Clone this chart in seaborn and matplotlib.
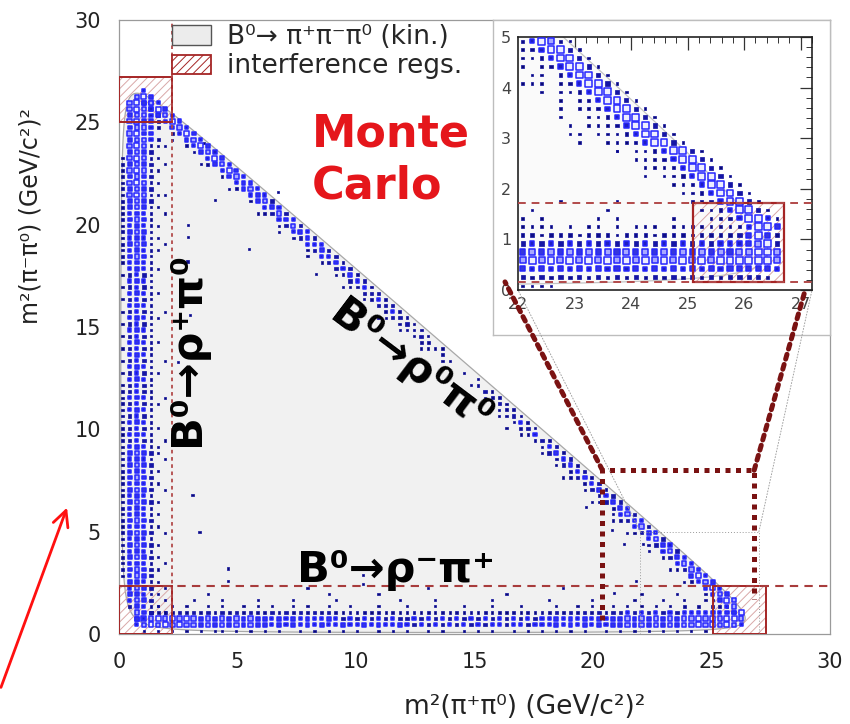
import numpy as np
import pandas as pd
import matplotlib
matplotlib.use("Agg")
import matplotlib.pyplot as plt
import seaborn as sns
from matplotlib.patches import Rectangle, Patch, Polygon, ConnectionPatch
from matplotlib.ticker import MultipleLocator

sns.set_theme(style="white")
plt.rcParams['font.family'] = ['DejaVu Sans']
plt.rcParams['hatch.linewidth'] = 0.7

# ------------------------------------------------------------------ data
# main histogram: 0.3 x 0.3 GeV^2 bins, box size digits 1..7 ('.' = empty)
BIN = 0.3
DIAG_J0 = 90          # y-bin of the rho0 line (x+y ~ 27.3) at x-bin 0

# rho- pi+ band: rows j = 0..7 (y bins), characters = x bins
H_ROWS = [
    "...1.1.1.1 .1.11.1.1. 1.1..1.1.1 .1.1..1.1. 1..1.1..1. 1.1..1.1.1 .1.1.1..1. 1.1.1.1.1. 1.1......",
    "..46767676 6565656565 5454545454 4544545445 4343434343 4344344344 4545454545 5656565656 67676764.",
    "..57676767 6565656565 5454545445 4343434343 3434343434 3434343434 4545454545 5656565656 67676776.",
    "....323232 3232323232 2323232323 2121212121 1212121212 1212121212 2323232323 3434343434 4545454..",
    ".....1.1.1 ..1.1..1.1 .1..1.1..1 ..1...1... 1...1...1. ..1...1... .1..1.1..1 .1.1.1.1.2 .2.2.2...",
    "......1... 1...1....1 ....1..... 1........1 ....1..... ..1....... 1.....1... ..1...1..1 ...1.....",
    ".......... ..1....... .........1 ......1... .......... ....1..... .......... ...1....1. .........",
    ".......... .......... ......1... .......... ...1...... .......... ..1....... .......... .........",
]
# rho+ pi0 band: columns i = 0..6 (x bins), characters = y bins
V_COLS = [
    ".........1 2121212121 2121212121 1212121212 1.1.1.1.1. 1.1.1.1.1. 1212121212 21212121.. .........",
    "....345454 5454545454 4545454545 4343434343 3434343434 3434343434 4545454545 5656565656 5656566..",
    "..56565656 6565656565 5656565656 5454545454 4545454545 4545454545 5656565656 6767676767 67676776.",
    "..45454545 5454545454 4545454545 4343434343 3434343434 3434343434 4545454545 5656565656 6565665..",
    "..23232323 3232323232 2323232323 2121212121 1212121212 1212121212 2121212121 3232323232 4545455..",
    "..1.1.1.1. 1.1.1..1.1 .1..1.1..1 1..1...1.. ..1....1.. .1...1...1 ..1.1.1..1 .1.1.1.1.1 2.2.3....",
    "...1...1.. .1....1... ...1....1. .1......1. ....1..... ..1....... ...1....1. .1....1..1 .........",
]
# rho0 pi0 band: offset k (in y bins) from the rho0 line, characters = x bins
D_ROWS = {
    1:  "...4545454 5454545454 4343434343 3232323232 2121.1.... 1.1212121. 2323232323 3434343434 4545456..",
    0:  "...7676767 6767676565 6565655454 5454434343 3232121.1. 2323234343 4545454545 5656565656 67676767.",
    -1: "...5454545 4545454545 4343434343 3232323232 2121.1...1 .1.1212121 3232323232 4343434343 5454545..",
    -2: "...2.2.2.2 1.2.1.2.1. 2.1.2.1.1. 1.1.1..1.1 ..1....... ...1..1..1 .1.2.1.2.1 2.1.2.2.1. 2.2.2....",
    -3: "....1..1.. .1...1...1 ..1...1... .1....1... .......... ....1..... ..1...1..1 .1..1..1.1 ..1......",
}
# isolated entries in the interior
SCAT_X = [4.05, 5.5, 8.3, 2.9, 2.9, 2.9, 3.1, 3.4, 4.6, 4.6, 10.3, 10.3, 21.8, 20.9,
          19.7, 21.3, 20.8, 22.1, 6.7, 3.6, 2.5, 2.7, 3.0]
SCAT_Y = [21.2, 18.8, 17.6, 20.0, 19.4, 18.2, 6.8, 5.0, 3.2, 2.6, 2.9, 2.45, 2.6, 2.0,
          6.2, 4.4, 5.1, 4.4, 21.6, 24.0, 13.3, 10.0, 15.6]
SCAT_D = [1, 1, 1, 1, 1, 2, 1, 1, 1, 1, 1, 1, 1, 1, 1, 1, 1, 1, 1, 1, 1, 1, 1]

# zoomed inset: 1/6 GeV^2 bins starting at x = 22, y = 0
INSET_BIN = 1.0 / 6.0
INSET_X0 = 22.0
INSET_ROWS = [
    (29, 0, "247621"),
    (28, 0, "1247731"),
    (27, 0, "11247731"),
    (26, 0, "1.1247731"),
    (25, 1, "11.247731"),
    (24, 0, "111.1247731"),
    (23, 2, "1.11247731"),
    (22, 4, "1.1247731"),
    (21, 4, "1.11247731"),
    (20, 7, "11247731"),
    (19, 5, "1..11247731"),
    (18, 6, "1..11247731"),
    (17, 10, "11247731"),
    (16, 10, "1.11247731"),
    (15, 12, "111247731"),
    (14, 13, "111247731"),
    (13, 13, "1.11247731"),
    (12, 16, "11247731"),
    (11, 17, "11247731"),
    (10, 0, "....1.....1.......11247731"),
    (9, 0, ".1.......1.........11247731"),
    (8, 0, "1.1.....1.1.....1...11247741"),
    (7, 0, "1111.1.11.1.111.111111124775"),
    (6, 0, "2212221222122212221222235752"),
    (5, 0, "3434343434343434343434445673"),
    (4, 0, "5656565656565656565656566776"),
    (3, 0, "6767676767676767676767777776"),
    (2, 0, "5454545454545454545454555554"),
    (1, 0, "323232323232323232323233332"),
    (0, 0, "1111"),
]
INSET_SCAT_A = [4, 5, 6, 8, 9, 10, 7]
INSET_SCAT_B = [20, 18, 17, 18, 17, 16, 19]
INSET_SCAT_D = [1, 1, 1, 1, 1, 1, 1]

X_TICKS = [0, 5, 10, 15, 20, 25, 30]
Y_TICKS = [0, 5, 10, 15, 20, 25, 30]
INSET_X_TICKS = [22, 23, 24, 25, 26, 27]
INSET_Y_TICKS = [0, 1, 2, 3, 4, 5]

# B0 -> pi+ pi- pi0 kinematics (kinematic limit)
M_B, M_PC, M_P0 = 5.2797, 0.13957, 0.13498


# ------------------------------------------------------------------ helpers
def clean(s):
    return s.replace(" ", "")


def main_cells():
    rows = []
    for j, s in enumerate(H_ROWS):
        for i, ch in enumerate(clean(s)):
            if ch != ".":
                rows.append(((i + 0.5) * BIN, (j + 0.5) * BIN, int(ch)))
    for i, s in enumerate(V_COLS):
        for j, ch in enumerate(clean(s)):
            if ch != ".":
                rows.append(((i + 0.5) * BIN, (j + 0.5) * BIN, int(ch)))
    for k, s in D_ROWS.items():
        for i, ch in enumerate(clean(s)):
            if ch != ".":
                j = DIAG_J0 - i + k
                rows.append(((i + 0.5) * BIN, (j + 0.5) * BIN, int(ch)))
    for x, y, d in zip(SCAT_X, SCAT_Y, SCAT_D):
        rows.append((x, y, d))
    return pd.DataFrame(rows, columns=["x", "y", "d"])


def inset_cells():
    rows = []
    for b, start, s in INSET_ROWS:
        for n, ch in enumerate(s):
            if ch != ".":
                a = start + n
                rows.append((INSET_X0 + (a + 0.5) * INSET_BIN, (b + 0.5) * INSET_BIN, int(ch)))
    for a, b, d in zip(INSET_SCAT_A, INSET_SCAT_B, INSET_SCAT_D):
        rows.append((INSET_X0 + (a + 0.5) * INSET_BIN, (b + 0.5) * INSET_BIN, d))
    return pd.DataFrame(rows, columns=["x", "y", "d"])


def dalitz_boundary(n=600):
    xmin, xmax = (M_PC + M_P0) ** 2, (M_B - M_PC) ** 2
    t = np.linspace(0, np.pi, n)
    x = xmin + (xmax - xmin) * (1 - np.cos(t)) / 2
    sx = np.sqrt(x)
    e0 = (x - M_PC ** 2 + M_P0 ** 2) / (2 * sx)
    em = (M_B ** 2 - x - M_PC ** 2) / (2 * sx)
    p0 = np.sqrt(np.clip(e0 ** 2 - M_P0 ** 2, 0, None))
    pm = np.sqrt(np.clip(em ** 2 - M_PC ** 2, 0, None))
    ymax = (e0 + em) ** 2 - (p0 - pm) ** 2
    ymin = (e0 + em) ** 2 - (p0 + pm) ** 2
    return np.concatenate([x, x[::-1]]), np.concatenate([ymax, ymin[::-1]])


PAL = {1: '#0a0a70', 2: '#0d0d88', 3: '#1515a6', 4: '#1f1fc2', 5: '#3636dc',
       6: '#a8a8ff', 7: '#eeeeff'}


def draw_boxes(ax, df, side_px):
    for sub, ec, lw in ((df[df.d <= 3], '#1010a0', 0.5), (df[df.d >= 4], '#2626ff', 1.1)):
        if sub.empty:
            continue
        sizes = {d: max(0.72 * side_px(d) - lw, 0.8) ** 2 for d in range(1, 10)}
        sns.scatterplot(data=sub, x="x", y="y", size="d", sizes=sizes, hue="d",
                        palette=PAL, marker="s", edgecolor=ec, linewidth=lw,
                        legend=False, ax=ax, zorder=3)


# ------------------------------------------------------------------ figure
fig = plt.figure(figsize=(8.5, 7.24), dpi=100)
fig.patch.set_facecolor("white")
ax = fig.add_axes([119 / 850, 1 - 634 / 724, 711 / 850, 614 / 724])
ax.set_facecolor("white")

bx, by = dalitz_boundary()
ax.add_patch(Polygon(np.column_stack([bx, by]), closed=True, facecolor="#f1f1f1",
                     edgecolor="#a8a8a8", lw=0.9, zorder=1))

draw_boxes(ax, main_cells(), lambda d: 2.3 + 0.6 * d)

RED = "#a52525"
# interference regions
for (x0, y0, w, h) in [(0, 25.0, 2.24, 2.2), (0, 0, 2.24, 2.34), (25.05, 0, 2.25, 2.34)]:
    ax.add_patch(Rectangle((x0, y0), w, h, facecolor="none", edgecolor="#d9a8a8",
                           hatch="////", lw=0, zorder=2))
    ax.add_patch(Rectangle((x0, y0), w, h, facecolor="none", edgecolor=RED, lw=1.4, zorder=4))
ax.axhline(2.34, color="#a83c3c", lw=1.5, ls=(0, (4, 3)), zorder=4)
ax.axvline(2.24, color="#b24a4a", lw=1.3, ls=(0, (2, 2)), zorder=4)

# thin grey zoom frame
ax.plot([22, 22, 27, 27], [0, 5, 5, 0], color="#9a9a9a", lw=0.7, ls=(0, (1, 2)), zorder=4)
# thick dark-red zoom frame
ax.plot([20.4, 20.4, 26.8, 26.8], [0.7, 8.0, 8.0, 1.7], color="#7a1212", lw=3.6,
        ls=(0, (1, 1.1)), zorder=6)

ax.set_xlim(0, 30)
ax.set_ylim(0, 30)
ax.set_xticks(X_TICKS)
ax.set_yticks(Y_TICKS)
ax.set_xticklabels([str(v) for v in X_TICKS])
ax.set_yticklabels([str(v) for v in Y_TICKS])
ax.xaxis.set_minor_locator(MultipleLocator(1))
ax.yaxis.set_minor_locator(MultipleLocator(1))
ax.tick_params(which="major", direction="in", length=7, width=0.8, color="#8a8a8a",
               labelsize=15, labelcolor="#222222", pad=13)
ax.tick_params(which="minor", direction="in", length=3.5, width=0.6, color="#8a8a8a")
for sp in ax.spines.values():
    sp.set_color("#9a9a9a")
    sp.set_linewidth(0.9)

ax.set_xlabel("m\u00b2(\u03c0\u207a\u03c0\u2070) (GeV/c\u00b2)\u00b2", fontsize=19, color="#222222")
ax.xaxis.set_label_coords(0.57, -0.098)
ax.set_ylabel("m\u00b2(\u03c0\u207b\u03c0\u2070) (GeV/c\u00b2)\u00b2", fontsize=17, color="#222222")
ax.yaxis.set_label_coords(-0.107, 0.68)

# legend
handles = [Patch(facecolor="#ececec", edgecolor="#555555", lw=1.0),
           Patch(facecolor="white", edgecolor=RED, hatch="////", lw=1.3)]
labels = ["B\u2070\u2192 \u03c0\u207a\u03c0\u207b\u03c0\u2070 (kin.)", "interference regs."]
ax.legend(handles, labels, loc="upper left", bbox_to_anchor=(0.074, 0.993),
          frameon=False, fontsize=19, handlelength=1.5, handleheight=0.75,
          handletextpad=0.6, labelspacing=0.12, borderaxespad=0, borderpad=0)

# annotations
ax.text(8.14, 23.8, "Monte", color="#e5161b", fontsize=32, fontweight="bold",
        ha="left", va="baseline", zorder=7)
ax.text(8.14, 21.3, "Carlo", color="#e5161b", fontsize=32, fontweight="bold",
        ha="left", va="baseline", zorder=7)
ax.text(2.85, 13.9, "B\u2070\u2192\u03c1\u207a\u03c0\u2070", fontsize=31, fontweight="bold",
        rotation=90, ha="center", va="center", zorder=7, color="black")
ax.text(12.3, 13.1, "B\u2070\u2192\u03c1\u2070\u03c0\u2070", fontsize=31, fontweight="bold",
        rotation=-37, ha="center", va="center", zorder=7, color="black")
ax.text(7.5, 2.55, "B\u2070\u2192\u03c1\u207b\u03c0\u207a", fontsize=31, fontweight="bold",
        ha="left", va="baseline", zorder=7, color="black")

# red arrow outside the axes
ax.annotate("", xy=(68 / 850, 1 - 505 / 724), xytext=(0.0, 1 - 690 / 724),
            xycoords="figure fraction", textcoords="figure fraction",
            arrowprops=dict(arrowstyle="->", color="#ff1010", lw=2.0, mutation_scale=28),
            annotation_clip=False)

# ------------------------------------------------------------------ inset
panel = fig.add_axes([493 / 850, 1 - 335 / 724, (830 - 493) / 850, (335 - 20) / 724])
panel.set_facecolor("white")
panel.set_xticks([])
panel.set_yticks([])
for sp in panel.spines.values():
    sp.set_color("#bdbdbd")
    sp.set_linewidth(1.0)
panel.set_zorder(4)

ins = fig.add_axes([518 / 850, 1 - 290 / 724, 294 / 850, 253 / 724])
ins.set_zorder(5)
ins.set_facecolor("white")
ins.add_patch(Polygon(np.column_stack([bx, by]), closed=True, facecolor="#fafafa",
                      edgecolor="#c4c4c4", lw=0.9, zorder=1))
draw_boxes(ins, inset_cells(), lambda d: 2.4 + 0.85 * d)
ins.add_patch(Rectangle((25.1, 0.15), 1.6, 1.57, facecolor="none", edgecolor="#d9a8a8",
                        hatch="///", lw=0, zorder=2))
ins.add_patch(Rectangle((25.1, 0.15), 1.6, 1.57, facecolor="none", edgecolor=RED, lw=1.6, zorder=4))
ins.axhline(1.72, color="#b24a4a", lw=1.4, ls=(0, (4, 3)), zorder=4)
ins.axhline(0.15, color="#b24a4a", lw=1.4, ls=(0, (4, 3)), zorder=4)
ins.set_xlim(22, 27.2)
ins.set_ylim(0, 5)
ins.set_xticks(INSET_X_TICKS)
ins.set_yticks(INSET_Y_TICKS)
ins.set_xticklabels([str(v) for v in INSET_X_TICKS])
ins.set_yticklabels([str(v) for v in INSET_Y_TICKS])
ins.xaxis.set_minor_locator(MultipleLocator(0.2))
ins.yaxis.set_minor_locator(MultipleLocator(0.2))
ins.tick_params(which="major", direction="in", length=9, width=0.9, color="#333333",
                labelsize=11.5, labelcolor="#444444", top=True, right=True, pad=5)
ins.tick_params(which="minor", direction="in", length=4.5, width=0.7, color="#333333",
                top=True, right=True)
ins.set_xlabel("")
ins.set_ylabel("")
for sp in ins.spines.values():
    sp.set_color("#222222")
    sp.set_linewidth(1.2)

# connectors
for (xa, ya), (xb, yb), col, lw, ls in [
        ((20.4, 8.0), (21.77, 0.16), "#7a1212", 3.6, (0, (1, 1.1))),
        ((26.8, 8.0), (27.08, 0.0), "#7a1212", 3.6, (0, (1, 1.1))),
        ((22.0, 5.0), (22.0, 0.0), "#a0a0a0", 0.7, (0, (1, 2))),
        ((27.0, 5.0), (27.2, 0.0), "#a0a0a0", 0.7, (0, (1, 2)))]:
    con = ConnectionPatch(xyA=(xa, ya), coordsA=ax.transData, xyB=(xb, yb),
                          coordsB=ins.transData, color=col, lw=lw, ls=ls, zorder=8)
    fig.add_artist(con)

fig.savefig("out.png", dpi=100, facecolor="white")
